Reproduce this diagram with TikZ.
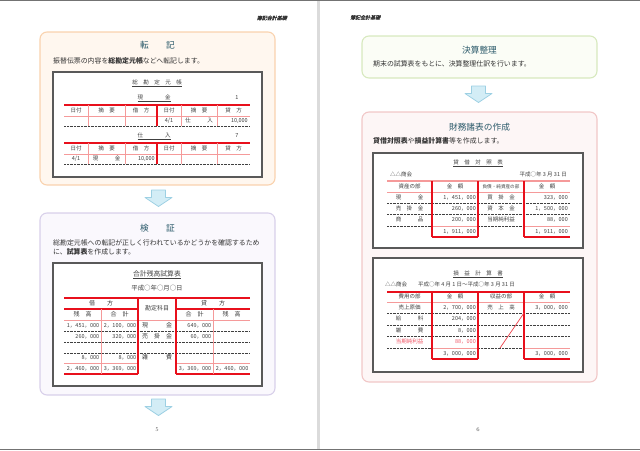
\documentclass[tikz,border=0pt]{standalone}
\usepackage{fontspec}
\newfontfamily\jp{Noto Sans CJK JP}
\newfontfamily\jpsl[FakeSlant=0.25,FakeBold=1]{Noto Sans CJK JP}
\usepackage{tikz}
\usetikzlibrary{positioning,calc}

\definecolor{ttlblue}{HTML}{2B5A6A}
\definecolor{bodytxt}{HTML}{333333}
\definecolor{tabred}{HTML}{E8101C}
\definecolor{tabpink}{HTML}{F59A9A}
\definecolor{arrfill}{HTML}{D3EDF6}
\definecolor{arrline}{HTML}{9DD0E3}
\definecolor{orgline}{HTML}{F9D2AE}
\definecolor{orgfill}{HTML}{FFF7EF}
\definecolor{purline}{HTML}{D8D0EA}
\definecolor{purfill}{HTML}{FAF8FD}
\definecolor{grnline}{HTML}{D7E9BE}
\definecolor{grnfill}{HTML}{FBFDF6}
\definecolor{pnkline}{HTML}{F1C7C7}
\definecolor{pnkfill}{HTML}{FDF6F6}
\definecolor{profit}{HTML}{F05A6A}

\begin{document}
\begin{tikzpicture}[x=1pt,y=-1pt]

\tikzstyle{panel}=[draw, rounded corners=7pt, line width=1.1pt, inner sep=0pt]
\tikzstyle{sheet}=[draw=black!65, fill=white, line width=1.3pt, inner sep=0pt]
\tikzstyle{ttl}=[text=ttlblue, font=\jp\fontsize{8.7pt}{10pt}\selectfont, inner sep=0pt]
\tikzstyle{body}=[text=bodytxt, font=\jp\fontsize{6.9pt}{8pt}\selectfont, inner sep=0pt, anchor=west]
\tikzstyle{cell}=[text=black!75, font=\jp\fontsize{5.5pt}{6pt}\selectfont, inner sep=0pt,
    text height=4.3pt, text depth=1.2pt]
\tikzstyle{num}=[cell, anchor=east]
\tikzstyle{tbfont}=[font=\jp\fontsize{6pt}{7pt}\selectfont]
\tikzstyle{redrule}=[tabred, line width=1.1pt]
\tikzstyle{pinkrule}=[tabpink, line width=0.7pt]
\tikzstyle{dotrule}=[black!75, line width=0.7pt, dash pattern=on 0.7pt off 0.7pt]
\tikzstyle{flowarrow}=[draw=arrline, fill=arrfill, line width=0.8pt, line join=round]
\tikzstyle{runhead}=[text=black!80, font=\jpsl\fontsize{5pt}{6pt}\selectfont, inner sep=0pt]
\tikzstyle{pgnum}=[text=black!70, font=\fontsize{5.5pt}{6pt}\selectfont, inner sep=0pt]

\useasboundingbox (0,0) rectangle (640,450);

% page edges
\fill[black!55] (0,0) rectangle (640,1.2);
\fill[black!55] (0,448.6) rectangle (640,450);
\fill[black!14] (317,1.2) rectangle (320,448.6);

\node[runhead, anchor=east] (rhL) at (287,18) {簿記会計基礎};
\node[runhead, anchor=west] (rhR) at (350,17.5) {簿記会計基礎};
\node[pgnum] (pg5) at (157,430) {5};
\node[pgnum] (pg6) at (478,430) {6};

% panels
\node[panel, draw=orgline, fill=orgfill, minimum width=235pt, minimum height=153pt] (tenki) at (157.5,108.5) {};
\node[panel, draw=purline, fill=purfill, minimum width=235pt, minimum height=182pt] (kensho) at (157.5,304) {};
\node[panel, draw=grnline, fill=grnfill, minimum width=235pt, minimum height=42pt] (kessan) at (479.5,57) {};
\node[panel, draw=pnkline, fill=pnkfill, minimum width=235pt, minimum height=270pt] (zaimu) at (479.5,247) {};

\node[ttl] (t1) at (157.5,45) {転　　記};
\node[ttl] (t2) at (157.5,228) {検　　証};
\node[ttl] (t3) at (479.5,50) {決算整理};
\node[ttl] (t4) at (479.5,127) {財務諸表の作成};

\node[body] (d1) at (53,61) {振替伝票の内容を\textbf{総勘定元帳}などへ転記します。};
\node[body] (d2a) at (53,243) {総勘定元帳への転記が正しく行われているかどうかを確認するため};
\node[body] (d2b) at (53,252) {に、\textbf{試算表}を作成します。};
\node[body] (d3) at (373,64) {期末の試算表をもとに、決算整理仕訳を行います。};
\node[body] (d4) at (373,141) {\textbf{貸借対照表}や\textbf{損益計算書}等を作成します。};

% arrows between panels
\coordinate (ar1) at ($(tenki.south)!.5!(kensho.north)+(1,-1)$);
\coordinate (ar2) at ($(kensho.south)+(1,11.5)$);
\coordinate (ar3) at ($(kessan.south)!.5!(zaimu.north)+(-1,-1)$);
\foreach \c in {ar1,ar2,ar3}
  \path[flowarrow] (\c) ++(-7,-8) -- ++(14,0) -- ++(0,7.5) -- ++(6.5,0)
     -- ++(-13.5,9) -- ++(-13.5,-9) -- ++(6.5,0) -- cycle;

% sheets
\node[sheet, minimum width=209pt, minimum height=105pt] (s1) at (157.5,124.5) {};
\node[sheet, minimum width=209pt, minimum height=123pt] (s2) at (157.5,324.5) {};
\node[sheet, minimum width=210pt, minimum height=95pt] (s3) at (478,200.5) {};
\node[sheet, minimum width=210pt, minimum height=114pt] (s4) at (478,315) {};

% general ledger
\node[cell] (led) at (157,83) {\underline{総　勘　定　元　帳}};
\node[cell] (genT) at (154,98) {\underline{現　　　　金}};
\node[cell] (genN) at (237,98) {1};
\node[cell] (shiT) at (154,136) {\underline{仕　　　　入}};
\node[cell] (shiN) at (237,136) {7};
\foreach \T/\k in {105/1,143/2} {
  \draw[redrule] (64,\T) -- (250,\T);
  \draw[pinkrule] (64,\T+11) -- (250,\T+11);
  \draw[dotrule] (64,\T+21) -- (250,\T+21);
  \foreach \x in {88,125,181,217} \draw[pinkrule] (\x,\T) -- (\x,\T+21);
  \draw[redrule] (157,\T) -- (157,\T+21);
  \foreach \x/\s [count=\j] in {76/日付,106.5/摘　要,141/借　方,169/日付,199/摘　要,233.5/貸　方}
    \node[cell] (lh\k-\j) at (\x,\T+5.5) {\s};
}
\node[cell] (l1a) at (169,121) {4/1};
\node[cell] (l1b) at (199,121) {仕　　　入};
\node[num] (l1c) at (248,121) {10,000};
\node[cell] (l2a) at (76,159) {4/1};
\node[cell] (l2b) at (106.5,159) {現　　　金};
\node[num] (l2c) at (155,159) {10,000};

% trial balance
\node[cell, font=\jp\fontsize{6.8pt}{8pt}\selectfont] (tbT) at (157,275) {\underline{合計残高試算表}};
\node[cell, font=\jp\fontsize{6.4pt}{8pt}\selectfont] (tbD) at (157,289) {平成○年○月○日};
\draw[redrule] (64,298) -- (250,298);
\draw[redrule] (64,309) -- (138,309) (176,309) -- (250,309);
\draw[pinkrule] (64,320) -- (250,320);
\foreach \y in {331,342,353} \draw[dotrule] (64,\y) -- (250,\y);
\draw[pinkrule] (64,363) -- (138,363) (176,363) -- (250,363);
\draw[redrule] (64,374) -- (138,374) (176,374) -- (250,374);
\draw[redrule] (138,298) -- (138,374) (176,298) -- (176,374);
\draw[pinkrule] (101,309) -- (101,374) (213,309) -- (213,374);
\node[cell,tbfont] (tbh1) at (101,303.5) {借　　方};
\node[cell,tbfont] (tbh2) at (213,303.5) {貸　　方};
\node[cell,tbfont] (tbh3) at (157,309) {勘定科目};
\foreach \x/\s [count=\j] in {82.5/残　高,119.5/合　計,194.5/合　計,231.5/残　高}
  \node[cell,tbfont] (tbs\j) at (\x,314.5) {\s};
\foreach \y/\a/\b/\c/\d/\e [count=\r] in {325.5/1，451，000/2，100，000/現　　　金/649，000/,
    336.5/260，000/320，000/売　掛　金/60，000/,
    358/8，000/8，000/雑　　　費//,
    368.5/2，460，000/3，369，000//3，369，000/2，460，000} {
  \node[num] (tb\r-a) at (99.5,\y) {\a};
  \node[num] (tb\r-b) at (136.5,\y) {\b};
  \node[cell,tbfont] (tb\r-c) at (157,\y) {\c};
  \node[num] (tb\r-d) at (211.5,\y) {\d};
  \node[num] (tb\r-e) at (248.5,\y) {\e};
}

% balance sheet
\node[cell] (bsT) at (478,163) {\underline{貸　借　対　照　表}};
\node[cell, anchor=west] (bsC) at (390,175) {△△商会};
\node[cell, anchor=east] (bsD) at (567,175) {平成○年 3 月 31 日};
\draw[pinkrule, line width=1.1pt] (387,181) -- (570,181);
\draw[pinkrule] (387,192) -- (570,192);
\foreach \y in {203,214} \draw[dotrule] (387,\y) -- (570,\y);
\draw[dotrule] (387,226) -- (432,226) (478,226) -- (524,226);
\draw[pinkrule] (432,226) -- (478,226) (524,226) -- (570,226);
\draw[redrule] (432,237) -- (478,237) (524,237) -- (570,237);
\foreach \x in {432,478,524} \draw[redrule] (\x,181) -- (\x,237);
\node[cell] (bsh1) at (409.5,186.5) {資産の部};
\node[cell] (bsh2) at (455,186.5) {金　額};
\node[cell, font=\jp\fontsize{4.6pt}{5pt}\selectfont] (bsh3) at (501,186.5) {負債・純資産の部};
\node[cell] (bsh4) at (547,186.5) {金　額};
\foreach \y/\a/\b/\c/\d [count=\r] in {197.5/現　　　金/1，451，000/買　掛　金/323，000,
    208.5/売　掛　金/260，000/資　本　金/1，500，000,
    219.5/商　　　品/200，000/当期純利益/88，000,
    231.5//1，911，000//1，911，000} {
  \node[cell] (bs\r-a) at (409.5,\y) {\a};
  \node[num] (bs\r-b) at (476,\y) {\b};
  \node[cell] (bs\r-c) at (501,\y) {\c};
  \node[num] (bs\r-d) at (568,\y) {\d};
}

% income statement
\node[cell] (plT) at (478,274) {\underline{損　益　計　算　書}};
\node[cell, anchor=west] (plC) at (385,285) {△△商会　　平成○年 4 月 1 日～平成○年 3 月 31 日};
\draw[redrule] (387,292) -- (570,292);
\draw[pinkrule] (387,302) -- (570,302);
\foreach \y in {313,325,336} \draw[dotrule] (387,\y) -- (570,\y);
\draw[dotrule] (387,348) -- (432,348) (478,348) -- (524,348);
\draw[pinkrule] (432,348) -- (478,348) (524,348) -- (570,348);
\draw[redrule] (432,359) -- (478,359) (524,359) -- (570,359);
\foreach \x in {432,478,524} \draw[redrule] (\x,292) -- (\x,359);
\draw[pinkrule, tabred!80] (524,313) -- (500,348);
\foreach \x/\s [count=\j] in {409.5/費用の部,455/金　額,501/収益の部,547/金　額}
  \node[cell] (plh\j) at (\x,297) {\s};
\foreach \y/\a/\b/\c/\d [count=\r] in {307.5/売上原価/2，700，000/売　上　高/3，000，000,
    319/給　　　料/204，000//,
    330.5/雑　　　費/8，000//,
    353.5//3，000，000//3，000，000} {
  \node[cell] (pl\r-a) at (409.5,\y) {\a};
  \node[num] (pl\r-b) at (476,\y) {\b};
  \node[cell] (pl\r-c) at (501,\y) {\c};
  \node[num] (pl\r-d) at (568,\y) {\d};
}
\node[cell, text=profit] (plNa) at (409.5,342) {当期純利益};
\node[num, text=profit] (plNb) at (476,342) {88，000};

\end{tikzpicture}
\end{document}
